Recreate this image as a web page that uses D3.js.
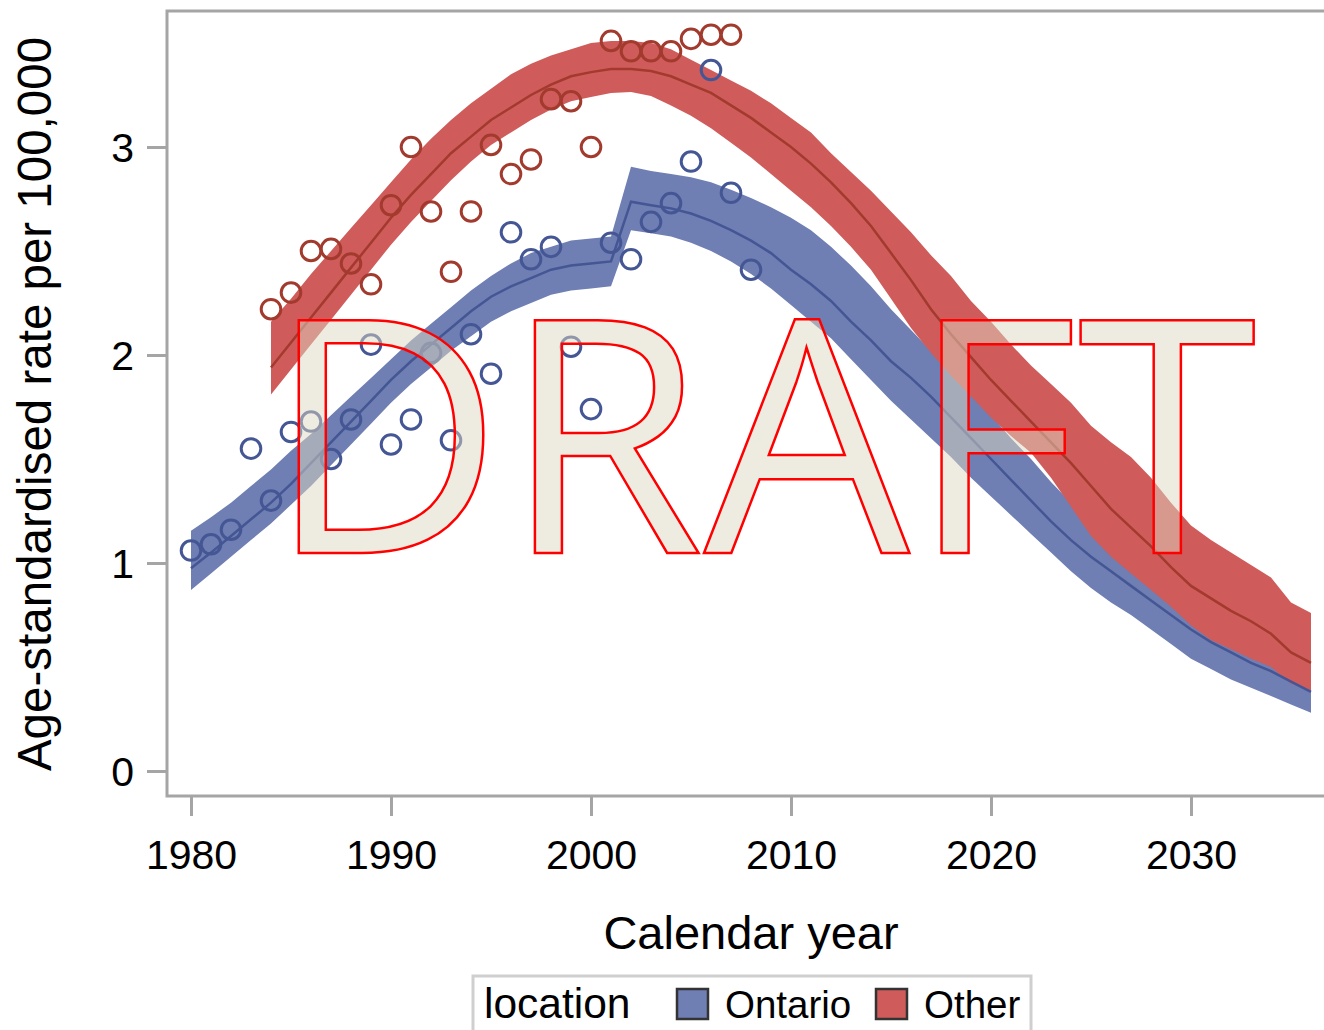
<!DOCTYPE html>
<html>
<head>
<meta charset="utf-8">
<script src="https://cdn.jsdelivr.net/npm/d3@7"></script>
<style>
  body { margin: 0; background: #fff; }
  svg { display: block; font-family: "Liberation Sans", Arial, sans-serif; }
</style>
</head>
<body>
<div id="chart"></div>
<script>
// observed rates (open circles)
var obsYears = d3.range(1980, 2009)
var ontarioObs = [1.06, 1.09, 1.16, 1.55, 1.30, 1.63, 1.68, 1.50, 1.69, 2.05,
  1.57, 1.69, 2.01, 1.59, 2.10, 1.91, 2.59, 2.46, 2.52, 2.04,
  1.74, 2.54, 2.46, 2.64, 2.73, 2.93, 3.37, 2.78, 2.41]
var otherObsYears = d3.range(1984, 2008)
var otherObs = [2.22, 2.30, 2.50, 2.51, 2.44, 2.34, 2.72, 3.00, 2.69, 2.40,
  2.69, 3.01, 2.87, 2.94, 3.23, 3.22, 3.00, 3.51, 3.46, 3.46,
  3.46, 3.52, 3.54, 3.54]

// fitted / projected curves with limits
var ontarioYears = d3.range(1980, 2037)
var ontarioFit = [0.975, 1.05, 1.13, 1.21, 1.29, 1.38, 1.48, 1.58, 1.68, 1.78,
  1.88, 1.97, 2.05, 2.13, 2.21, 2.28, 2.33, 2.37, 2.41, 2.43,
  2.44, 2.45, 2.737, 2.72, 2.705, 2.68, 2.645, 2.60, 2.55, 2.49,
  2.41, 2.34, 2.26, 2.16, 2.07, 1.97, 1.89, 1.80, 1.70, 1.60,
  1.50, 1.40, 1.30, 1.20, 1.11, 1.03, 0.96, 0.89, 0.82, 0.75,
  0.68, 0.62, 0.57, 0.52, 0.48, 0.43, 0.38]
var ontarioLower = [0.87, 0.95, 1.03, 1.11, 1.19, 1.28, 1.37, 1.47, 1.57, 1.67,
  1.77, 1.86, 1.94, 2.02, 2.09, 2.16, 2.21, 2.25, 2.29, 2.31,
  2.32, 2.33, 2.60, 2.585, 2.57, 2.54, 2.50, 2.45, 2.39, 2.32,
  2.24, 2.16, 2.08, 1.98, 1.88, 1.78, 1.69, 1.60, 1.51, 1.41,
  1.32, 1.23, 1.14, 1.05, 0.96, 0.88, 0.81, 0.75, 0.68, 0.61,
  0.54, 0.49, 0.44, 0.40, 0.36, 0.32, 0.28]
var ontarioUpper = [1.155, 1.22, 1.29, 1.37, 1.45, 1.54, 1.62, 1.71, 1.80, 1.89,
  1.98, 2.07, 2.15, 2.23, 2.31, 2.38, 2.44, 2.49, 2.52, 2.55,
  2.56, 2.57, 2.905, 2.885, 2.87, 2.855, 2.83, 2.795, 2.755, 2.71,
  2.66, 2.60, 2.52, 2.43, 2.33, 2.22, 2.12, 2.02, 1.92, 1.82,
  1.71, 1.60, 1.50, 1.39, 1.29, 1.20, 1.12, 1.04, 0.96, 0.89,
  0.82, 0.75, 0.69, 0.64, 0.59, 0.54, 0.49]

var otherYears = d3.range(1984, 2037)
var otherFit = [1.94, 2.06, 2.18, 2.30, 2.42, 2.54, 2.66, 2.77, 2.87, 2.97,
  3.05, 3.13, 3.19, 3.25, 3.30, 3.34, 3.36, 3.375, 3.375, 3.365,
  3.34, 3.30, 3.26, 3.20, 3.14, 3.07, 3.00, 2.92, 2.83, 2.73,
  2.62, 2.49, 2.36, 2.22, 2.10, 1.99, 1.88, 1.78, 1.68, 1.58,
  1.48, 1.37, 1.26, 1.17, 1.08, 0.98, 0.89, 0.83, 0.77, 0.72,
  0.66, 0.57, 0.52]
var otherLower = [1.81, 1.93, 2.05, 2.17, 2.29, 2.41, 2.53, 2.64, 2.74, 2.84,
  2.93, 3.01, 3.07, 3.13, 3.18, 3.22, 3.24, 3.26, 3.265, 3.245,
  3.20, 3.15, 3.09, 3.02, 2.95, 2.87, 2.79, 2.71, 2.62, 2.52,
  2.41, 2.27, 2.13, 2.01, 1.90, 1.80, 1.70, 1.61, 1.53, 1.41,
  1.27, 1.13, 1.03, 0.95, 0.87, 0.79, 0.70, 0.63, 0.585, 0.54,
  0.50, 0.42, 0.39]
var otherUpper = [2.16, 2.27, 2.39, 2.50, 2.61, 2.72, 2.83, 2.94, 3.04, 3.13,
  3.21, 3.28, 3.35, 3.40, 3.44, 3.47, 3.50, 3.51, 3.51, 3.50,
  3.47, 3.42, 3.37, 3.32, 3.27, 3.21, 3.14, 3.07, 2.97, 2.88,
  2.79, 2.69, 2.59, 2.48, 2.38, 2.26, 2.16, 2.05, 1.95, 1.86,
  1.77, 1.66, 1.58, 1.51, 1.41, 1.29, 1.18, 1.11, 1.05, 0.99,
  0.93, 0.81, 0.76]

var xTicks = [1980, 1990, 2000, 2010, 2020, 2030]
var yTicks = [0, 1, 2, 3]
var legendItems = ["Ontario", "Other"]

var colors = {
  "Ontario": {fill: "#6F7EB3", line: "#445694"},
  "Other": {fill: "#D05B5B", line: "#A23A2E"}
}

var width = 1324, height = 1030
var frame = {left: 167, top: 11, right: 1326, bottom: 796}

var svg = d3.select("#chart").append("svg")
  .attr("width", width)
  .attr("height", height)

var x = d3.scaleLinear().domain([1980, 2036]).range([191, 1311])
var y = d3.scaleLinear().domain([0, 3]).range([771, 147])

function zipRows(years, fit, lo, hi) {
  return years.map(function (yr, i) {
    return {year: yr, fit: fit[i], lo: lo[i], hi: hi[i]}
  })
}
var series = [
  {name: "Ontario", rows: zipRows(ontarioYears, ontarioFit, ontarioLower, ontarioUpper),
    pts: obsYears.map(function (yr, i) { return {year: yr, v: ontarioObs[i]} })},
  {name: "Other", rows: zipRows(otherYears, otherFit, otherLower, otherUpper),
    pts: otherObsYears.map(function (yr, i) { return {year: yr, v: otherObs[i]} })}
]

var plot = svg.append("g")

var band = d3.area()
  .x(function (d) { return x(d.year) })
  .y0(function (d) { return y(d.lo) })
  .y1(function (d) { return y(d.hi) })
var fitLine = d3.line()
  .x(function (d) { return x(d.year) })
  .y(function (d) { return y(d.fit) })

// bands first, then lines, then markers
plot.selectAll(".band").data(series).enter().append("path")
  .attr("class", "band")
  .attr("d", function (d) { return band(d.rows) })
  .attr("fill", function (d) { return colors[d.name].fill })

plot.selectAll(".fit").data(series).enter().append("path")
  .attr("class", "fit")
  .attr("d", function (d) { return fitLine(d.rows) })
  .attr("fill", "none")
  .attr("stroke", function (d) { return colors[d.name].line })
  .attr("stroke-width", 2.5)

series.forEach(function (s) {
  plot.selectAll(".pt-" + s.name).data(s.pts).enter().append("circle")
    .attr("cx", function (d) { return x(d.year) })
    .attr("cy", function (d) { return y(d.v) })
    .attr("r", 9.8)
    .attr("fill", "none")
    .attr("stroke", colors[s.name].line)
    .attr("stroke-width", 3)
})

// frame
var frameColor = "#A5A5A5"
svg.append("path")
  .attr("d", "M" + frame.right + "," + frame.top + "H" + frame.left + "V" + frame.bottom + "H" + frame.right)
  .attr("fill", "none")
  .attr("stroke", frameColor)
  .attr("stroke-width", 3)

// axes
var xAxis = svg.append("g")
  .attr("transform", "translate(0," + frame.bottom + ")")
  .call(d3.axisBottom(x).tickValues(xTicks).tickFormat(d3.format("d")).tickSize(20).tickPadding(23))
var yAxis = svg.append("g")
  .attr("transform", "translate(" + frame.left + ",0)")
  .call(d3.axisLeft(y).tickValues(yTicks).tickFormat(d3.format("d")).tickSize(20).tickPadding(13))

;[xAxis, yAxis].forEach(function (ax) {
  ax.select(".domain").remove()
  ax.selectAll(".tick line").attr("stroke", frameColor).attr("stroke-width", 3)
  ax.selectAll(".tick text")
    .attr("fill", "#000")
    .style("font-size", "41px")
    .style("font-family", "Liberation Sans, Arial, sans-serif")
})
xAxis.selectAll(".tick text").attr("dy", "0.72em")
yAxis.selectAll(".tick text").attr("dy", "0.36em")

svg.append("text")
  .attr("x", 751).attr("y", 949)
  .attr("text-anchor", "middle")
  .style("font-size", "47px")
  .text("Calendar year")

svg.append("text")
  .attr("transform", "translate(51,404) rotate(-90)")
  .attr("text-anchor", "middle")
  .style("font-size", "47.5px")
  .text("Age-standardised rate per 100,000")

// legend
var legend = svg.append("g")
legend.append("rect")
  .attr("x", 473).attr("y", 976)
  .attr("width", 558).attr("height", 70)
  .attr("fill", "#fff")
  .attr("stroke", "#CFCFCF")
  .attr("stroke-width", 3)
legend.append("text")
  .attr("x", 484).attr("y", 1018)
  .style("font-size", "42.5px")
  .text("location")
var legendX = [677, 876]
legendItems.forEach(function (name, i) {
  legend.append("rect")
    .attr("x", legendX[i]).attr("y", 989)
    .attr("width", 31).attr("height", 30)
    .attr("fill", colors[name].fill)
    .attr("stroke", "#333")
    .attr("stroke-width", 2.5)
  legend.append("text")
    .attr("x", legendX[i] + 48).attr("y", 1018)
    .style("font-size", "38.5px")
    .text(name)
})

// watermark
svg.append("text")
  .attr("x", 762).attr("y", 553)
  .attr("text-anchor", "middle")
  .attr("textLength", 990)
  .attr("lengthAdjust", "spacingAndGlyphs")
  .style("font-family", "'Open Sans', 'Noto Sans', sans-serif")
  .style("font-size", "326px")
  .attr("fill", "#DDD7C1")
  .attr("fill-opacity", 0.5)
  .attr("stroke", "#FF0000")
  .attr("stroke-width", 2.5)
  .text("DRAFT")
</script>
</body>
</html>
